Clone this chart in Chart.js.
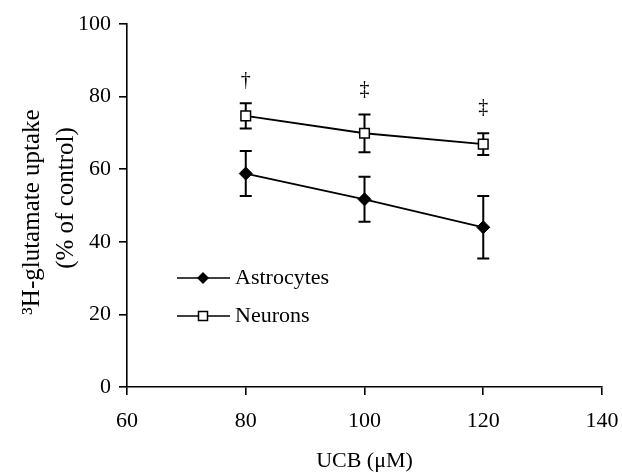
<!DOCTYPE html>
<html>
<head>
<meta charset="utf-8">
<script src="https://cdn.jsdelivr.net/npm/chart.js"></script>
<style>
  html, body { margin: 0; padding: 0; background: #fff; }
  #wrap { width: 622px; height: 474px; }
</style>
</head>
<body>
<div id="wrap"><canvas id="chart"></canvas></div>
<script>
const ucb = [80, 100, 120];
const astrocytes = [58.8, 51.7, 44.0];
const astrocytesErr = [6.2, 6.2, 8.6];
const neurons = [74.7, 69.9, 66.9];
const neuronsErr = [3.5, 5.2, 3.0];

const xTicks = [60, 80, 100, 120, 140];
const yTicks = [0, 20, 40, 60, 80, 100];

const markX = [80, 100, 120];
const markY = [84.5, 82, 77];
const markText = ["†", "‡", "‡"];

const FONT = "'Liberation Serif', 'DejaVu Serif', serif";

function drawMarker(ctx, style, x, y) {
  ctx.save();
  ctx.lineWidth = 1.5;
  ctx.strokeStyle = "#000";
  ctx.beginPath();
  if (style === "diamond") {
    ctx.moveTo(x, y - 6);
    ctx.lineTo(x + 6, y);
    ctx.lineTo(x, y + 6);
    ctx.lineTo(x - 6, y);
    ctx.closePath();
    ctx.fillStyle = "#000";
    ctx.fill();
  } else {
    ctx.rect(x - 4.5, y - 4.5, 9, 9);
    ctx.fillStyle = "#fff";
    ctx.fill();
    ctx.stroke();
  }
  ctx.restore();
}

const errorBars = {
  id: "errorBars",
  beforeDatasetsDraw(chart) {
    const { ctx, scales: { x, y } } = chart;
    const sets = [[astrocytes, astrocytesErr], [neurons, neuronsErr]];
    ctx.save();
    ctx.strokeStyle = "#000";
    ctx.lineWidth = 2;
    sets.forEach(([vals, errs]) => {
      vals.forEach((v, i) => {
        const px = x.getPixelForValue(ucb[i]);
        const top = y.getPixelForValue(v + errs[i]);
        const bot = y.getPixelForValue(v - errs[i]);
        ctx.beginPath();
        ctx.moveTo(px, top); ctx.lineTo(px, bot);
        ctx.moveTo(px - 6, top); ctx.lineTo(px + 6, top);
        ctx.moveTo(px - 6, bot); ctx.lineTo(px + 6, bot);
        ctx.stroke();
      });
    });
    ctx.restore();
  }
};

const extras = {
  id: "extras",
  afterDraw(chart) {
    const { ctx, scales: { x, y } } = chart;
    ctx.save();
    ctx.fillStyle = "#000";

    // significance marks
    ctx.font = "20px " + FONT;
    ctx.textAlign = "center";
    ctx.textBaseline = "middle";
    markText.forEach((t, i) => {
      ctx.fillText(t, x.getPixelForValue(markX[i]), y.getPixelForValue(markY[i]));
    });

    // legend
    const rows = [["diamond", "Astrocytes", 278], ["square", "Neurons", 316]];
    rows.forEach(([style, label, ly]) => {
      ctx.strokeStyle = "#000";
      ctx.lineWidth = 1.6;
      ctx.beginPath();
      ctx.moveTo(177, ly); ctx.lineTo(230, ly);
      ctx.stroke();
      drawMarker(ctx, style, 203, ly);
      ctx.font = "22px " + FONT;
      ctx.textAlign = "left";
      ctx.textBaseline = "middle";
      ctx.fillText(label, 235, ly);
    });

    // axis titles
    ctx.font = "22px " + FONT;
    ctx.textAlign = "center";
    ctx.fillText("UCB (\u03BCM)", (x.left + x.right) / 2, 461);

    ctx.save();
    ctx.translate(32, 212);
    ctx.rotate(-Math.PI / 2);
    ctx.font = "25px " + FONT;
    ctx.fillText("\u00B3H-glutamate uptake", 0, 0);
    ctx.restore();
    ctx.save();
    ctx.translate(66, 198);
    ctx.rotate(-Math.PI / 2);
    ctx.font = "25px " + FONT;
    ctx.fillText("(% of control)", 0, 0);
    ctx.restore();

    ctx.restore();
  }
};

const axisCommon = {
  type: "linear",
  grid: { drawOnChartArea: false, color: "#000", tickLength: 8, lineWidth: 1.6 },
  border: { color: "#000", width: 1.6 },
  ticks: { color: "#000", font: { family: FONT, size: 22 } }
};

new Chart(document.getElementById("chart"), {
  type: "line",
  data: {
    datasets: [
      {
        label: "Astrocytes",
        data: ucb.map((u, i) => ({ x: u, y: astrocytes[i] })),
        borderColor: "#000",
        borderWidth: 1.8,
        pointStyle: "rectRot",
        pointRadius: 6.5,
        pointBackgroundColor: "#000",
        pointBorderColor: "#000",
        pointBorderWidth: 1
      },
      {
        label: "Neurons",
        data: ucb.map((u, i) => ({ x: u, y: neurons[i] })),
        borderColor: "#000",
        borderWidth: 1.8,
        pointStyle: "rect",
        pointRadius: 6.8,
        pointBackgroundColor: "#fff",
        pointBorderColor: "#000",
        pointBorderWidth: 1.5
      }
    ]
  },
  options: {
    responsive: true,
    maintainAspectRatio: false,
    animation: false,
    layout: { padding: { left: 0, right: 0, top: 24, bottom: 0 } },
    plugins: { legend: { display: false }, tooltip: { enabled: false } },
    scales: {
      x: {
        ...axisCommon,
        min: xTicks[0],
        max: xTicks[xTicks.length - 1],
        afterFit(s) { s.height = 87; s.paddingLeft = 0; s.paddingRight = 20; },
        afterBuildTicks(s) { s.ticks = xTicks.map(v => ({ value: v })); },
        ticks: { ...axisCommon.ticks, padding: 13 }
      },
      y: {
        ...axisCommon,
        min: yTicks[0],
        max: yTicks[yTicks.length - 1],
        afterFit(s) { s.width = 127; s.paddingTop = 0; s.paddingBottom = 0; },
        afterBuildTicks(s) { s.ticks = yTicks.map(v => ({ value: v })); },
        ticks: { ...axisCommon.ticks, padding: 8 }
      }
    }
  },
  plugins: [errorBars, extras]
});
</script>
</body>
</html>
